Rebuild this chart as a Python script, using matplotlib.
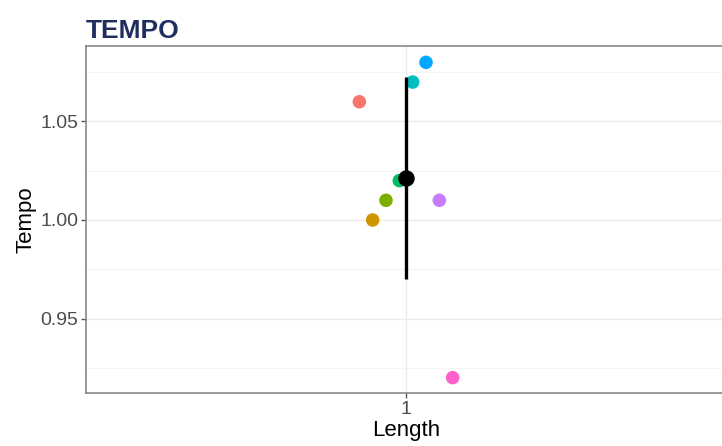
import numpy as np
import matplotlib
matplotlib.use('Agg')
import matplotlib.pyplot as plt
from matplotlib.ticker import MultipleLocator

# valori (un punto per gruppo, posizione "dodge")
groups = ['g1', 'g2', 'g3', 'g4', 'g5', 'g6', 'g7', 'g8']
tempo = [1.06, 1.00, 1.01, 1.02, 1.07, 1.08, 1.01, 0.92]
colori = ['#F8766D', '#CD9600', '#7CAE00', '#00BE67',
          '#00BFC4', '#00A9FF', '#C77CFF', '#FF61CC']
categoria = ['1']

plt.rcParams['font.family'] = ['Liberation Sans', 'DejaVu Sans']

fig = plt.figure(figsize=(7.22, 4.46), dpi=100)
ax = fig.add_axes([86 / 722, 53 / 446, 640 / 722, 347 / 446])

dodge = 0.2
n = len(groups)
step = dodge / n
xs = [1 + (i - (n - 1) / 2) * step for i in range(n)]

ax.scatter(xs, tempo, s=95, c=colori, zorder=3, linewidths=0)

media = np.mean(tempo)
sd = np.std(tempo, ddof=1)
ax.vlines(1, media - sd, media + sd, color='black', linewidth=2.4, zorder=4)
ax.scatter([1], [media], s=140, color='black', zorder=5, linewidths=0)

ax.set_xlim(0.4, 1.6)
ax.set_ylim(0.9122, 1.0883)
ax.set_xticks([1])
ax.set_xticklabels(categoria)
ax.yaxis.set_major_locator(MultipleLocator(0.05))
ax.yaxis.set_minor_locator(MultipleLocator(0.025))
ax.yaxis.set_major_formatter(plt.FormatStrFormatter('%.2f'))

ax.grid(True, which='major', color='#EBEBEB', linewidth=1.0, zorder=0)
ax.grid(True, which='minor', axis='y', color='#F4F4F4', linewidth=0.8, zorder=0)
ax.set_axisbelow(True)

for s in ax.spines.values():
    s.set_color('#7F7F7F')
    s.set_linewidth(1.1)

ax.tick_params(axis='both', which='major', length=3.5, width=1.0, color='#555555',
               labelsize=14, labelcolor='#4D4D4D', pad=2)
ax.tick_params(axis='y', which='minor', length=0)

ax.set_xlabel('Length', fontsize=16, labelpad=2)
ax.set_ylabel('Tempo', fontsize=16)
ax.yaxis.set_label_coords(-0.078, 0.5)

fig.text(86 / 722, 1 - 38 / 446, 'TEMPO', fontsize=19, fontweight='bold',
         color='#1F2D5F', ha='left', va='baseline')

fig.savefig('out.png', dpi=100)
